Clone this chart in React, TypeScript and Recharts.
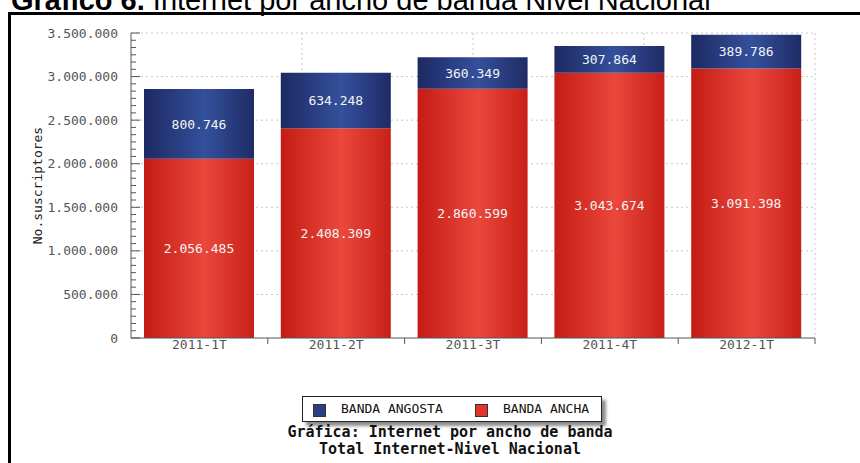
import { BarChart, Bar, XAxis, YAxis, CartesianGrid, LabelList } from 'recharts';

const QUARTERS = ['2011-1T', '2011-2T', '2011-3T', '2011-4T', '2012-1T'];
const BANDA_ANCHA = [2056485, 2408309, 2860599, 3043674, 3091398];
const BANDA_ANGOSTA = [800746, 634248, 360349, 307864, 389786];
const MAJOR_TICKS = [0, 500000, 1000000, 1500000, 2000000, 2500000, 3000000, 3500000];
const MINOR_PER_MAJOR = 6;
const BOUNDARIES = [1, 2, 3, 4, 5];

const data = QUARTERS.map((quarter, i) => ({
  quarter,
  ancha: BANDA_ANCHA[i],
  angosta: BANDA_ANGOSTA[i],
}));

const yTicks = Array.from(
  { length: (MAJOR_TICKS.length - 1) * MINOR_PER_MAJOR + 1 },
  (_, i) => (i * MAJOR_TICKS[1]) / MINOR_PER_MAJOR,
);

const MONO = '"DejaVu Sans Mono", monospace';
const WIDTH = 860;
const HEIGHT = 463;
const MARGIN = { top: 33, right: 45, bottom: 105, left: 0 };
const Y_AXIS_W = 131;
const BAND = (WIDTH - MARGIN.right - Y_AXIS_W) / QUARTERS.length;

const fmt = (v: number) => String(Math.round(v)).replace(/\B(?=(\d{3})+(?!\d))/g, '.');

function YTick({ x, y, payload }: any) {
  const ratio = payload.value / MAJOR_TICKS[1];
  const major = Math.abs(ratio - Math.round(ratio)) < 1e-6;
  return (
    <g>
      <line x1={x} y1={y} x2={x + (major ? 9 : 5)} y2={y} stroke="#555" />
      {major && (
        <text x={x - 13} y={y + 4.5} textAnchor="end" fontFamily={MONO} fontSize={13} fill="#555">
          {fmt(payload.value)}
        </text>
      )}
    </g>
  );
}

function XTick({ x, y, payload }: any) {
  return (
    <g>
      <line x1={x + BAND / 2} y1={y} x2={x + BAND / 2} y2={y + 6} stroke="#555" />
      <text x={x} y={y + 11} textAnchor="middle" fontFamily={MONO} fontSize={13} fill="#555">
        {payload.value}
      </text>
    </g>
  );
}

function LegendBox() {
  const item = (color: string, label: string, left: number, textLeft: number) => (
    <>
      <div
        style={{
          position: 'absolute',
          left,
          top: 7,
          width: 11,
          height: 11,
          background: color,
          border: '1px solid #333',
        }}
      />
      <div
        style={{
          position: 'absolute',
          left: textLeft,
          top: 3,
          fontFamily: MONO,
          fontSize: 13,
          lineHeight: '18px',
          color: '#111',
        }}
      >
        {label}
      </div>
    </>
  );
  return (
    <div
      style={{
        position: 'absolute',
        left: 302,
        top: 396,
        width: 298,
        height: 24,
        border: '1px solid #222',
        background: '#fff',
        boxShadow: '4px 4px 3px rgba(0,0,0,0.45)',
      }}
    >
      {item('#2d3f82', 'BANDA ANGOSTA', 10, 38)}
      {item('#e0352c', 'BANDA ANCHA', 172, 200)}
    </div>
  );
}

export default function App() {
  return (
    <div
      style={{
        position: 'absolute',
        left: 0,
        top: 0,
        width: WIDTH,
        height: HEIGHT,
        overflow: 'hidden',
        background: '#fff',
      }}
    >
      <div
        style={{
          position: 'absolute',
          left: 11,
          top: -14,
          fontFamily: '"Liberation Sans", Arial, sans-serif',
          fontSize: 29,
          lineHeight: '29px',
          whiteSpace: 'nowrap',
          color: '#000',
        }}
      >
        <b>Gráfico 6.</b> Internet por ancho de banda Nivel Nacional
      </div>
      <div
        style={{
          position: 'absolute',
          left: 8,
          top: 12,
          width: 900,
          height: 500,
          borderLeft: '3px solid #000',
          borderTop: '3px solid #000',
        }}
      />
      <div style={{ position: 'absolute', left: 0, top: 0 }}>
        <BarChart width={WIDTH} height={HEIGHT} data={data} margin={MARGIN} barSize={110}>
          <defs>
            <linearGradient id="gradRed" x1="0" y1="0" x2="1" y2="0">
              <stop offset="0%" stopColor="#c41c14" />
              <stop offset="55%" stopColor="#ea473d" />
              <stop offset="100%" stopColor="#c82018" />
            </linearGradient>
            <linearGradient id="gradBlue" x1="0" y1="0" x2="1" y2="0">
              <stop offset="0%" stopColor="#1d2962" />
              <stop offset="55%" stopColor="#34509c" />
              <stop offset="100%" stopColor="#1f2b66" />
            </linearGradient>
          </defs>
          <CartesianGrid
            xAxisId="grid"
            stroke="#c8c8c8"
            strokeDasharray="2 3"
            horizontalValues={MAJOR_TICKS.slice(1)}
            verticalValues={BOUNDARIES}
          />
          <XAxis xAxisId="grid" type="number" domain={[0, QUARTERS.length]} hide />
          <XAxis
            dataKey="quarter"
            height={20}
            tickSize={0}
            tickMargin={0}
            tickLine={false}
            axisLine={{ stroke: '#555' }}
            tick={<XTick />}
            interval={0}
          />
          <YAxis
            width={Y_AXIS_W}
            domain={[0, 3500000]}
            ticks={yTicks}
            interval={0}
            tickSize={0}
            tickMargin={0}
            tickLine={false}
            axisLine={{ stroke: '#555' }}
            tick={<YTick />}
            label={{
              value: 'No.suscriptores',
              angle: -90,
              position: 'insideLeft',
              offset: 37,
              style: { textAnchor: 'middle', fontFamily: MONO, fontSize: 13, fill: '#222' },
            }}
          />
          <Bar dataKey="ancha" stackId="a" fill="url(#gradRed)" isAnimationActive={false}>
            <LabelList
              dataKey="ancha"
              position="center"
              formatter={(v: any) => fmt(Number(v))}
              fill="#f4f4f4"
              fontFamily={MONO}
              fontSize={13}
            />
          </Bar>
          <Bar dataKey="angosta" stackId="a" fill="url(#gradBlue)" isAnimationActive={false}>
            <LabelList
              dataKey="angosta"
              position="center"
              formatter={(v: any) => fmt(Number(v))}
              fill="#f4f4f4"
              fontFamily={MONO}
              fontSize={13}
            />
          </Bar>
        </BarChart>
      </div>
      <LegendBox />
      <div
        style={{
          position: 'absolute',
          left: 250,
          top: 424,
          width: 400,
          textAlign: 'center',
          fontFamily: MONO,
          fontWeight: 'bold',
          fontSize: 15,
          lineHeight: '17px',
          color: '#111',
        }}
      >
        Gráfica: Internet por ancho de banda
        <br />
        Total Internet-Nivel Nacional
      </div>
    </div>
  );
}
